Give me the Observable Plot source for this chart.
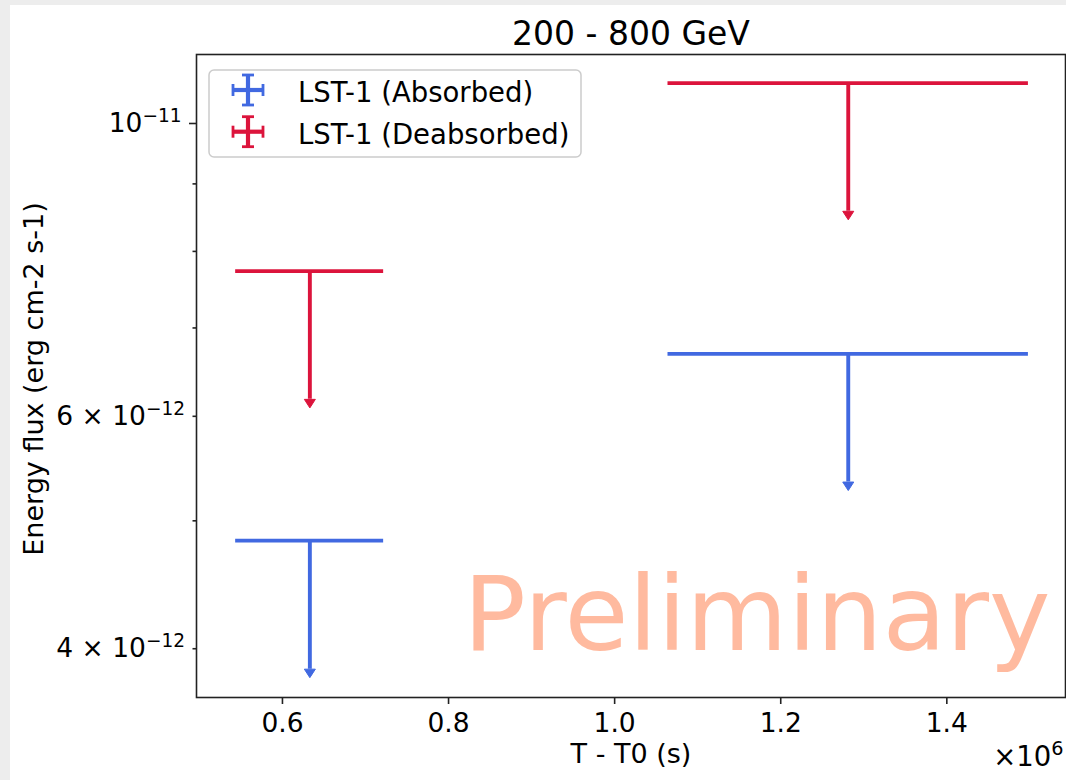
<!DOCTYPE html>
<html>
<head>
<meta charset="utf-8">
<script src="https://cdn.jsdelivr.net/npm/d3@7"></script>
<script src="https://cdn.jsdelivr.net/npm/@observablehq/plot@0.6"></script>
<style>
  html, body { margin: 0; padding: 0; background: #ededed; }
  #figure { position: absolute; left: 10px; top: 5px; width: 1056px; height: 775px; background: #ffffff; }
  #figure svg { overflow: visible; }
</style>
</head>
<body>
<div id="figure"></div>
<script>
// Upper limits on the 200 - 800 GeV energy flux in two time bins
const series = ["LST-1 (Absorbed)", "LST-1 (Deabsorbed)"];
const binStart = [0.546e6, 1.0666e6];     // s
const binEnd = [0.7195e6, 1.4959e6];      // s
const binCenter = [0.633e6, 1.2813e6];    // s
const absorbedUL = [4.83e-12, 6.69e-12];          // erg cm-2 s-1
const absorbedArrowEnd = [3.86e-12, 5.35e-12];
const deabsorbedUL = [7.73e-12, 1.073e-11];
const deabsorbedArrowEnd = [6.18e-12, 8.58e-12];

const xTicks = [0.6e6, 0.8e6, 1.0e6, 1.2e6, 1.4e6];
const xTickLabels = ["0.6", "0.8", "1.0", "1.2", "1.4"];
const xOffsetLabel = "×10^6";
const yMajorTicks = [1e-11];
const yMajorLabels = ["10^−11"];
const yLabeledMinorTicks = [4e-12, 6e-12];
const yLabeledMinorLabels = ["4 × 10^−12", "6 × 10^−12"];
const yMinorTicks = [5e-12, 7e-12, 8e-12, 9e-12];

const titleText = "200 - 800 GeV";
const xLabel = "T - T0 (s)";
const yLabel = "Energy flux (erg cm-2 s-1)";
const watermark = "Preliminary";

const colors = ["#4169e1", "#dc143c"];

// one row per series and time bin
const rows = [];
[[absorbedUL, absorbedArrowEnd], [deabsorbedUL, deabsorbedArrowEnd]].forEach(([ul, low], s) => {
  ul.forEach((v, i) => rows.push({
    series: series[s], start: binStart[i], end: binEnd[i], center: binCenter[i], ul: v, low: low[i]
  }));
});

const xLabelMap = new Map(xTicks.map((t, i) => [t, xTickLabels[i]]));
const yLabelMap = new Map([...yMajorTicks.map((t, i) => [t, yMajorLabels[i]]),
                           ...yLabeledMinorTicks.map((t, i) => [t, yLabeledMinorLabels[i]])]);

// filled downward caret, base on the point, tip below
const caretDown = {
  draw(context, size) {
    const r = Math.sqrt(size / Math.PI);
    context.moveTo(-r, 0);
    context.lineTo(r, 0);
    context.lineTo(0, 1.55 * r);
    context.closePath();
  }
};

const axisStyle = {stroke: "#222", strokeWidth: 1.6, fontSize: 26.5, label: null};

const chart = Plot.plot({
  width: 1056,
  height: 775,
  marginLeft: 186,
  marginRight: 1,
  marginTop: 49,
  marginBottom: 83,
  style: {fontFamily: "DejaVu Sans", fontSize: "26px", color: "#000", background: "white", overflow: "visible"},
  x: {type: "linear", domain: [0.4965e6, 1.5429e6], label: null},
  y: {type: "log", domain: [3.6738e-12, 1.1279e-11], label: null},
  color: {domain: series, range: colors},
  marks: [
    Plot.text([watermark], {frameAnchor: "bottom-right", textAnchor: "end", lineAnchor: "bottom",
      dx: -15, dy: -47.7, fontSize: 104, fill: "#ffa07a", fillOpacity: 0.72}),
    Plot.ruleY(rows, {y: "ul", x1: "start", x2: "end", stroke: "series", strokeWidth: 3.9, strokeLinecap: "square"}),
    Plot.ruleX(rows, {x: "center", y1: "ul", y2: "low", stroke: "series", strokeWidth: 3.9}),
    Plot.dot(rows, {x: "center", y: "low", symbol: caretDown, r: 5.5, fill: "series", stroke: "series", strokeWidth: 1}),
    Plot.frame({stroke: "#222", strokeWidth: 1.6}),
    Plot.axisX({...axisStyle, ticks: xTicks, tickSize: 7, tickPadding: 9, tickFormat: d => xLabelMap.get(d)}),
    Plot.axisY({...axisStyle, ticks: yMajorTicks, tickSize: 7, tickPadding: 8, tickFormat: d => yLabelMap.get(d)}),
    Plot.axisY({...axisStyle, ticks: yLabeledMinorTicks, tickSize: 3.5, tickPadding: 8, tickFormat: d => yLabelMap.get(d)}),
    Plot.axisY({...axisStyle, ticks: yMinorTicks, tickSize: 3.5, tickPadding: 8, tickFormat: () => ""}),
    Plot.text([titleText], {frameAnchor: "top", textAnchor: "middle", lineAnchor: "bottom", dy: -10, fontSize: 33}),
    Plot.text([xLabel], {frameAnchor: "bottom", textAnchor: "middle", lineAnchor: "bottom", dy: 65, fontSize: 27}),
    Plot.text([xOffsetLabel], {frameAnchor: "bottom-right", textAnchor: "end", lineAnchor: "bottom", dx: -2, dy: 68, fontSize: 27.5}),
    Plot.text([yLabel], {frameAnchor: "left", textAnchor: "middle", rotate: -90, lineAnchor: "bottom", dx: -154, dy: 3, fontSize: 27})
  ]
});

const svg = d3.select(chart);

// exponents written as "base^exp" become raised, smaller tspans
svg.selectAll("text").each(function () {
  const t = this.textContent;
  if (!t.includes("^")) return;
  const [base, exp] = t.split("^");
  const sel = d3.select(this);
  sel.text(null);
  sel.append("tspan").text(base);
  sel.append("tspan").attr("font-size", "0.7em").attr("dy", "-0.55em").text(exp);
});

// legend box in the upper left of the axes
const legend = svg.append("g")
  .attr("font-family", "DejaVu Sans").attr("font-size", 27.5).attr("text-anchor", "start");
legend.append("rect")
  .attr("x", 199).attr("y", 65).attr("width", 372).attr("height", 87).attr("rx", 5)
  .attr("fill", "white").attr("fill-opacity", 0.8)
  .attr("stroke", "#cccccc").attr("stroke-width", 1.5);
series.forEach((name, i) => {
  const cx = 238, cy = 85 + i * 41.7, arm = 15, cap = 6;
  const g = legend.append("g").attr("stroke", colors[i]);
  g.append("line").attr("x1", cx - arm).attr("x2", cx + arm).attr("y1", cy).attr("y2", cy).attr("stroke-width", 4.2);
  g.append("line").attr("x1", cx).attr("x2", cx).attr("y1", cy - arm).attr("y2", cy + arm).attr("stroke-width", 4.2);
  g.append("line").attr("x1", cx - arm).attr("x2", cx - arm).attr("y1", cy - cap).attr("y2", cy + cap).attr("stroke-width", 2.8);
  g.append("line").attr("x1", cx + arm).attr("x2", cx + arm).attr("y1", cy - cap).attr("y2", cy + cap).attr("stroke-width", 2.8);
  g.append("line").attr("x1", cx - cap).attr("x2", cx + cap).attr("y1", cy - arm).attr("y2", cy - arm).attr("stroke-width", 2.8);
  g.append("line").attr("x1", cx - cap).attr("x2", cx + cap).attr("y1", cy + arm).attr("y2", cy + arm).attr("stroke-width", 2.8);
  legend.append("text").attr("x", 288).attr("y", 97 + i * 41.5).attr("fill", "#000").text(name);
});

document.getElementById("figure").appendChild(chart);
</script>
</body>
</html>
